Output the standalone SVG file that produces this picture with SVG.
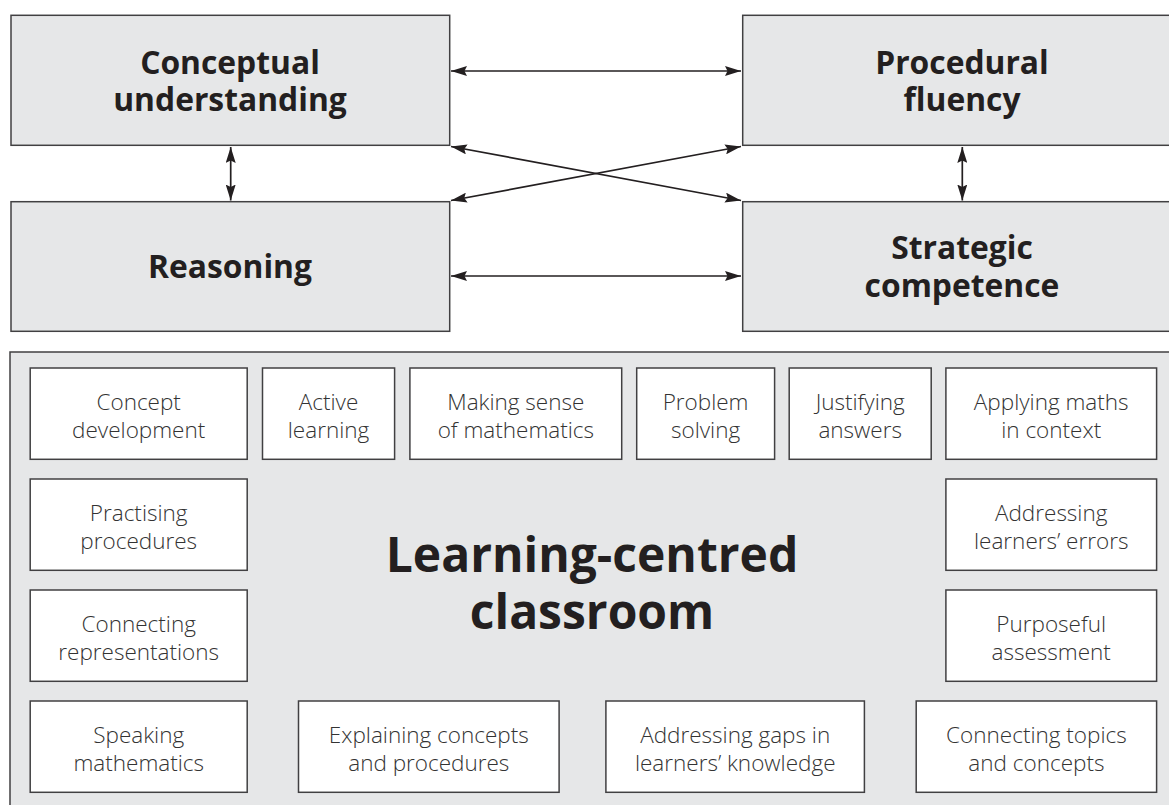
<svg xmlns="http://www.w3.org/2000/svg" width="1169" height="805" viewBox="0 0 1169 805">
<style>
.big{fill:#e6e7e8;stroke:#414042;stroke-width:1.5}
.small{fill:#ffffff;stroke:#414042;stroke-width:1.5}
.hd{font-family:"Open Sans","Noto Sans","Liberation Sans",sans-serif;font-weight:700;font-size:31.8px;fill:#231f20;text-anchor:middle}
.lb{font-family:"Open Sans","Noto Sans","Liberation Sans",sans-serif;font-weight:300;font-size:22.5px;fill:#333333;text-anchor:middle}
.title{font-family:"Open Sans","Noto Sans","Liberation Sans",sans-serif;font-weight:700;font-size:48px;fill:#231f20;text-anchor:middle}
.cn{stroke:#231f20;stroke-width:1.7;fill:none;marker-start:url(#ah);marker-end:url(#ah)}
</style>
<defs>
<marker id="ah" viewBox="0 0 16 10" refX="16" refY="5" markerWidth="16" markerHeight="10" markerUnits="userSpaceOnUse" orient="auto-start-reverse">
<path d="M0,0 L16,5 L0,10 L2.5,5 z" fill="#231f20"/>
</marker>
</defs>
<rect width="1169" height="805" fill="#ffffff"/>

<g id="panel">
<rect class="big" x="10" y="352" width="1170" height="470"/>
<text class="title" x="592" y="571.5">Learning-centred</text>
<text class="title" x="592" y="629">classroom</text>
</g>

<g id="conceptual">
<rect class="big" x="11" y="15.3" width="438.7" height="130"/>
<text class="hd" x="230" y="74">Conceptual</text>
<text class="hd" x="230" y="111">understanding</text>
</g>
<g id="procedural">
<rect class="big" x="742.7" y="15.3" width="440" height="130"/>
<text class="hd" x="962" y="74">Procedural</text>
<text class="hd" x="962" y="111">fluency</text>
</g>
<g id="reasoning">
<rect class="big" x="11" y="201.7" width="438.7" height="129.6"/>
<text class="hd" x="230" y="278">Reasoning</text>
</g>
<g id="strategic">
<rect class="big" x="742.7" y="201.7" width="440" height="129.6"/>
<text class="hd" x="962" y="259.3">Strategic</text>
<text class="hd" x="962" y="296.7">competence</text>
</g>

<g id="connectors">
<line class="cn" x1="451" y1="71" x2="741" y2="71"/>
<line class="cn" x1="451" y1="276" x2="741" y2="276"/>
<line class="cn" x1="451" y1="146.5" x2="741" y2="200.5"/>
<line class="cn" x1="451" y1="200.5" x2="741" y2="146.5"/>
<line class="cn" x1="230.7" y1="147" x2="230.7" y2="200.5"/>
<line class="cn" x1="962.3" y1="147" x2="962.3" y2="200.5"/>
</g>

<g id="concept-development">
<rect class="small" x="30.2" y="368" width="217" height="91.3"/>
<text class="lb" x="138.7" y="410">Concept</text>
<text class="lb" x="138.7" y="437.5">development</text>
</g>
<g id="active-learning">
<rect class="small" x="262.5" y="368" width="132.1" height="91.3"/>
<text class="lb" x="328.5" y="410">Active</text>
<text class="lb" x="328.5" y="437.5">learning</text>
</g>
<g id="making-sense">
<rect class="small" x="409.9" y="368" width="211.8" height="91.3"/>
<text class="lb" x="515.8" y="410">Making sense</text>
<text class="lb" x="515.8" y="437.5">of mathematics</text>
</g>
<g id="problem-solving">
<rect class="small" x="636.7" y="368" width="137.9" height="91.3"/>
<text class="lb" x="705.6" y="410">Problem</text>
<text class="lb" x="705.6" y="437.5">solving</text>
</g>
<g id="justifying-answers">
<rect class="small" x="789.2" y="368" width="142" height="91.3"/>
<text class="lb" x="860.2" y="410">Justifying</text>
<text class="lb" x="860.2" y="437.5">answers</text>
</g>
<g id="applying-maths">
<rect class="small" x="945.9" y="368" width="210.7" height="91.3"/>
<text class="lb" x="1051.2" y="410">Applying maths</text>
<text class="lb" x="1051.2" y="437.5">in context</text>
</g>

<g id="practising-procedures">
<rect class="small" x="30.2" y="479" width="217" height="91.3"/>
<text class="lb" x="138.7" y="521">Practising</text>
<text class="lb" x="138.7" y="548.5">procedures</text>
</g>
<g id="addressing-errors">
<rect class="small" x="945.9" y="479" width="210.7" height="91.3"/>
<text class="lb" x="1051.2" y="521">Addressing</text>
<text class="lb" x="1051.2" y="548.5">learners’ errors</text>
</g>

<g id="connecting-representations">
<rect class="small" x="30.2" y="590" width="217" height="91.3"/>
<text class="lb" x="138.7" y="632">Connecting</text>
<text class="lb" x="138.7" y="659.5">representations</text>
</g>
<g id="purposeful-assessment">
<rect class="small" x="945.9" y="590" width="210.7" height="91.3"/>
<text class="lb" x="1051.2" y="632">Purposeful</text>
<text class="lb" x="1051.2" y="659.5">assessment</text>
</g>

<g id="speaking-mathematics">
<rect class="small" x="30.2" y="701" width="217" height="91.3"/>
<text class="lb" x="138.7" y="743">Speaking</text>
<text class="lb" x="138.7" y="770.5">mathematics</text>
</g>
<g id="explaining-concepts">
<rect class="small" x="298.5" y="701" width="260.6" height="91.3"/>
<text class="lb" x="428.8" y="743">Explaining concepts</text>
<text class="lb" x="428.8" y="770.5">and procedures</text>
</g>
<g id="addressing-gaps">
<rect class="small" x="605.9" y="701" width="258.5" height="91.3"/>
<text class="lb" x="735.2" y="743">Addressing gaps in</text>
<text class="lb" x="735.2" y="770.5">learners’ knowledge</text>
</g>
<g id="connecting-topics">
<rect class="small" x="916.2" y="701" width="240.4" height="91.3"/>
<text class="lb" x="1036.4" y="743">Connecting topics</text>
<text class="lb" x="1036.4" y="770.5">and concepts</text>
</g>
</svg>
